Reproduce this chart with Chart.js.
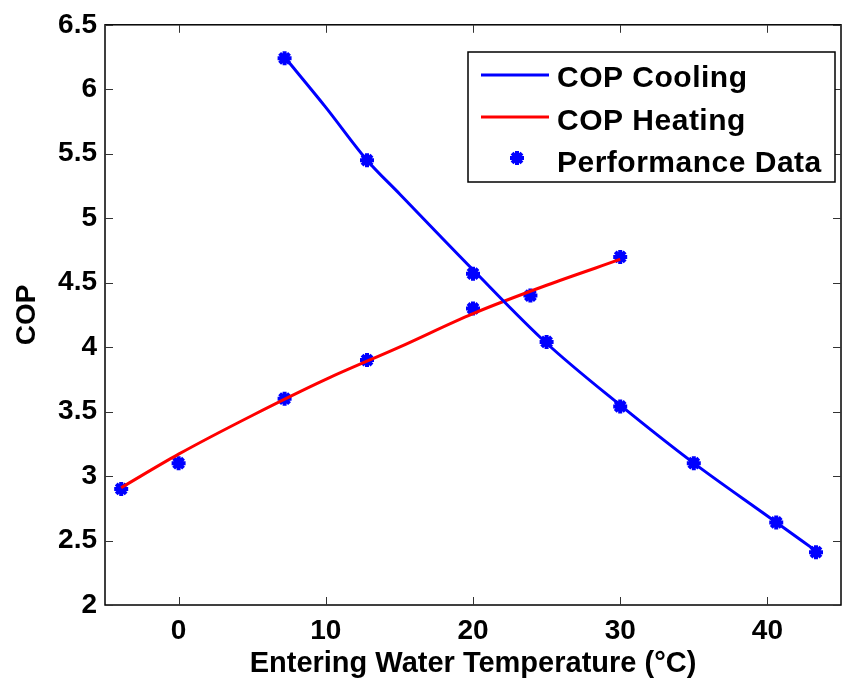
<!DOCTYPE html>
<html>
<head>
<meta charset="utf-8">
<script src="https://cdn.jsdelivr.net/npm/chart.js@4.4.1/dist/chart.umd.min.js"></script>
<style>
  html, body { margin: 0; padding: 0; background: #fff; overflow: hidden; }
  #wrap { width: 842px; height: 683px; overflow: hidden; position: relative; }
  #wrap canvas { position: absolute; left: 0; top: 0; }
</style>
</head>
<body>
<div id="wrap"><canvas id="grafico" width="852" height="683"></canvas></div>
<script>
// Datos
const coolingCurveX = [7.2, 10, 12.8, 15, 20, 25, 30, 35, 40, 43.3];
const coolingCurveY = [6.25, 5.86, 5.45, 5.19, 4.60, 4.03, 3.55, 3.10, 2.69, 2.42];
const heatingCurveX = [-3.9, 0, 5, 10, 15, 20, 25, 30];
const heatingCurveY = [2.91, 3.17, 3.47, 3.75, 4.00, 4.26, 4.48, 4.68];

const coolingDataX = [7.2, 12.8, 20, 25, 30, 35, 40.6, 43.3];
const coolingDataY = [6.24, 5.45, 4.57, 4.04, 3.54, 3.10, 2.64, 2.41];
const heatingDataX = [-3.9, 0, 7.2, 12.8, 20, 23.9, 30];
const heatingDataY = [2.90, 3.10, 3.60, 3.90, 4.30, 4.40, 4.70];

const xTicks = [0, 10, 20, 30, 40];
const yTicks = [2, 2.5, 3, 3.5, 4, 4.5, 5, 5.5, 6, 6.5];
const legendLabels = ["COP Cooling", "COP Heating", "Performance Data"];

const AZUL = '#0000ff';
const ROJO = '#ff0000';
const FUENTE = '"Liberation Sans", Arial, sans-serif';

function puntos(xs, ys) {
    return xs.map((x, i) => ({ x: x, y: ys[i] }));
}

// caja estilo matlab con ticks hacia dentro + leyenda
const cajaPlugin = {
    id: 'caja',
    afterDraw(chart) {
        const ctx = chart.ctx;
        const a = chart.chartArea;
        const sx = chart.scales.x;
        const sy = chart.scales.y;
        ctx.save();
        ctx.strokeStyle = '#000';
        ctx.lineWidth = 1.5;
        ctx.strokeRect(a.left, a.top, a.right - a.left, a.bottom - a.top);
        ctx.lineWidth = 1;
        ctx.strokeStyle = '#333';
        const t = 8;
        xTicks.forEach(v => {
            const px = Math.round(sx.getPixelForValue(v)) + 0.5;
            ctx.beginPath();
            ctx.moveTo(px, a.bottom); ctx.lineTo(px, a.bottom - t);
            ctx.moveTo(px, a.top); ctx.lineTo(px, a.top + t);
            ctx.stroke();
        });
        yTicks.forEach(v => {
            const py = Math.round(sy.getPixelForValue(v)) + 0.5;
            ctx.beginPath();
            ctx.moveTo(a.left, py); ctx.lineTo(a.left + t, py);
            ctx.moveTo(a.right, py); ctx.lineTo(a.right - t, py);
            ctx.stroke();
        });

        // leyenda
        const bx = 468, by = 52, bw = 367, bh = 130;
        ctx.fillStyle = '#fff';
        ctx.fillRect(bx, by, bw, bh);
        ctx.strokeStyle = '#000';
        ctx.lineWidth = 1.5;
        ctx.strokeRect(bx, by, bw, bh);

        const filas = [75, 117, 158];
        ctx.lineWidth = 3;
        ctx.strokeStyle = AZUL;
        ctx.beginPath(); ctx.moveTo(481, filas[0]); ctx.lineTo(549, filas[0]); ctx.stroke();
        ctx.strokeStyle = ROJO;
        ctx.beginPath(); ctx.moveTo(481, filas[1]); ctx.lineTo(549, filas[1]); ctx.stroke();
        ctx.fillStyle = AZUL;
        ctx.strokeStyle = AZUL;
        ctx.lineWidth = 4;
        Chart.helpers.drawPoint(ctx, { pointStyle: 'star', radius: 7, borderWidth: 4 }, 517, filas[2]);

        ctx.fillStyle = '#000';
        ctx.font = 'bold 30px ' + FUENTE;
        ctx.letterSpacing = '0.5px';
        ctx.textBaseline = 'alphabetic';
        ctx.textAlign = 'left';
        ctx.fillText(legendLabels[0], 557, 87);
        ctx.fillText(legendLabels[1], 557, 130);
        ctx.fillText(legendLabels[2], 557, 172);
        ctx.restore();
    }
};

const estiloPunto = {
    type: 'scatter',
    showLine: false,
    pointStyle: 'star',
    pointRadius: 7,
    pointBorderWidth: 4,
    pointBorderColor: AZUL,
    pointBackgroundColor: AZUL
};

const ctx = document.getElementById('grafico').getContext('2d');
new Chart(ctx, {
    type: 'scatter',
    data: {
        datasets: [
            {
                label: legendLabels[0],
                data: puntos(coolingCurveX, coolingCurveY),
                showLine: true,
                borderColor: AZUL,
                borderWidth: 3,
                pointRadius: 0,
                cubicInterpolationMode: 'monotone'
            },
            {
                label: legendLabels[1],
                data: puntos(heatingCurveX, heatingCurveY),
                showLine: true,
                borderColor: ROJO,
                borderWidth: 3,
                pointRadius: 0,
                cubicInterpolationMode: 'monotone'
            },
            Object.assign({ label: legendLabels[2], data: puntos(coolingDataX, coolingDataY) }, estiloPunto),
            Object.assign({ label: legendLabels[2], data: puntos(heatingDataX, heatingDataY) }, estiloPunto)
        ]
    },
    options: {
        responsive: false,
        animation: false,
        layout: { padding: { left: 0, top: 21, right: 4, bottom: 0 } },
        plugins: {
            legend: { display: false },
            tooltip: { enabled: false }
        },
        scales: {
            x: {
                type: 'linear',
                min: -5,
                max: 45,
                afterBuildTicks: s => { s.ticks = xTicks.map(v => ({ value: v })); },
                afterFit: s => { s.height = 78; },
                grid: { display: false, drawTicks: false },
                border: { display: false },
                ticks: {
                    padding: 9,
                    color: '#000',
                    font: { family: FUENTE, size: 28, weight: 'bold' }
                },
                title: {
                    display: true,
                    text: 'Entering Water Temperature (°C)',
                    color: '#000',
                    padding: { top: 0, bottom: 2 },
                    font: { family: FUENTE, size: 29, weight: 'bold' }
                }
            },
            y: {
                min: 2,
                max: 6.5,
                afterBuildTicks: s => { s.ticks = yTicks.map(v => ({ value: v })); },
                afterFit: s => { s.width = 105; },
                grid: { display: false, drawTicks: false },
                border: { display: false },
                ticks: {
                    padding: 8,
                    color: '#000',
                    font: { family: FUENTE, size: 28, weight: 'bold' },
                    callback: v => String(v)
                },
                title: {
                    display: true,
                    text: 'COP',
                    color: '#000',
                    padding: { top: 10, bottom: 0 },
                    font: { family: FUENTE, size: 28, weight: 'bold' }
                }
            }
        }
    },
    plugins: [cajaPlugin]
});
</script>
</body>
</html>
